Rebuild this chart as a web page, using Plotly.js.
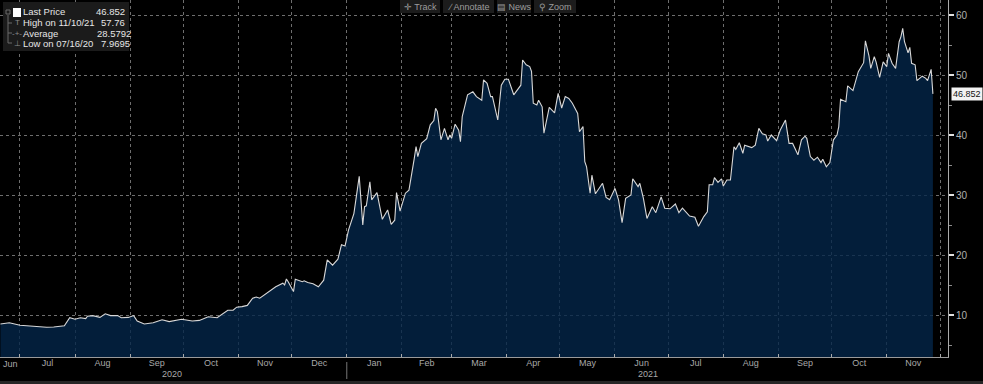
<!DOCTYPE html>
<html>
<head>
<meta charset="utf-8">
<script src="https://cdn.plot.ly/plotly-3.0.1.min.js"></script>
<style>
  html, body { margin: 0; padding: 0; background: #000; }
  #chart { width: 983px; height: 384px; }
</style>
</head>
<body>
<div id="chart"></div>
<script>
// ---- data ----
const dates = [
 '2020-06-20','2020-06-25','2020-07-01','2020-07-08','2020-07-16','2020-07-20','2020-07-26','2020-07-29',
 '2020-08-01','2020-08-04','2020-08-07','2020-08-08','2020-08-11','2020-08-15','2020-08-18','2020-08-21',
 '2020-08-25','2020-08-27','2020-08-31','2020-09-03','2020-09-05','2020-09-09','2020-09-14','2020-09-19',
 '2020-09-23','2020-09-30','2020-10-03','2020-10-06','2020-10-10','2020-10-15','2020-10-20','2020-10-23',
 '2020-10-26','2020-10-29','2020-10-31','2020-11-03','2020-11-06','2020-11-09','2020-11-11','2020-11-13',
 '2020-11-17','2020-11-22','2020-11-26','2020-11-27','2020-11-28','2020-11-29','2020-12-02','2020-12-03',
 '2020-12-07','2020-12-08','2020-12-10','2020-12-13','2020-12-16','2020-12-19','2020-12-21','2020-12-24',
 '2020-12-27','2020-12-29','2020-12-31','2021-01-01','2021-01-02','2021-01-05','2021-01-08','2021-01-10',
 '2021-01-11','2021-01-12','2021-01-14','2021-01-15','2021-01-18','2021-01-21','2021-01-24','2021-01-26',
 '2021-01-28','2021-01-29','2021-01-31','2021-02-03','2021-02-05','2021-02-08','2021-02-09','2021-02-10',
 '2021-02-12','2021-02-15','2021-02-17','2021-02-19','2021-02-20','2021-02-21','2021-02-23','2021-02-25',
 '2021-02-27','2021-02-28','2021-03-01','2021-03-03','2021-03-05','2021-03-06','2021-03-07','2021-03-10',
 '2021-03-13','2021-03-15','2021-03-18','2021-03-19','2021-03-21','2021-03-23','2021-03-24','2021-03-27',
 '2021-03-29','2021-03-31','2021-04-02','2021-04-05','2021-04-07','2021-04-09','2021-04-10','2021-04-12',
 '2021-04-14','2021-04-15','2021-04-16','2021-04-18','2021-04-19','2021-04-21','2021-04-22','2021-04-24',
 '2021-04-25','2021-04-28','2021-04-30','2021-05-02','2021-05-04','2021-05-06','2021-05-08','2021-05-11',
 '2021-05-12','2021-05-14','2021-05-15','2021-05-16','2021-05-18','2021-05-19','2021-05-21','2021-05-25',
 '2021-05-27','2021-05-29','2021-06-01','2021-06-03','2021-06-05','2021-06-07','2021-06-10','2021-06-11',
 '2021-06-14','2021-06-15','2021-06-17','2021-06-19','2021-06-22','2021-06-24','2021-06-27','2021-06-29',
 '2021-07-02','2021-07-05','2021-07-07','2021-07-09','2021-07-13','2021-07-16','2021-07-18','2021-07-21',
 '2021-07-23','2021-07-24','2021-07-26','2021-07-27','2021-07-29','2021-07-31','2021-08-01','2021-08-03',
 '2021-08-05','2021-08-07','2021-08-08','2021-08-10','2021-08-12','2021-08-13','2021-08-17','2021-08-19',
 '2021-08-21','2021-08-23','2021-08-25','2021-08-26','2021-08-28','2021-08-31','2021-09-02','2021-09-05',
 '2021-09-07','2021-09-09','2021-09-12','2021-09-14','2021-09-16','2021-09-17','2021-09-19','2021-09-21',
 '2021-09-23','2021-09-25','2021-09-26','2021-09-28','2021-09-30','2021-10-02','2021-10-04','2021-10-05',
 '2021-10-06','2021-10-09','2021-10-10','2021-10-13','2021-10-16','2021-10-19','2021-10-20','2021-10-22',
 '2021-10-23','2021-10-25','2021-10-26','2021-10-28','2021-10-30','2021-11-01','2021-11-02','2021-11-04',
 '2021-11-06','2021-11-08','2021-11-09','2021-11-10','2021-11-11','2021-11-13','2021-11-14','2021-11-15',
 '2021-11-17','2021-11-18','2021-11-21','2021-11-23','2021-11-24','2021-11-26','2021-11-27'
];
const prices = [
 8.5,8.7,8.3,8.1,7.9695,8.0,8.2,9.55,
 9.3,9.55,9.4,9.8,9.9,9.6,10.2,9.9,
 9.9,9.55,9.6,9.9,9.0,8.5,8.7,9.2,
 8.9,9.3,9.2,9.0,9.1,9.7,9.55,10.2,
 10.8,10.8,11.3,11.4,11.6,12.8,13.0,12.8,
 13.6,14.7,15.3,15.0,16.0,15.55,13.9,15.95,
 15.55,15.7,15.4,15.2,14.7,15.8,19.2,18.3,
 19.3,21.7,21.5,22.8,24.2,26.9,33.1,25.0,
 28.05,28.2,32.2,29.2,30.4,25.95,27.5,25.1,
 25.8,30.4,27.3,30.3,30.8,36.1,38.05,36.4,
 38.6,39.4,41.7,42.4,44.45,43.9,39.2,41.1,
 39.2,40.0,39.45,41.8,40.8,38.9,43.05,46.7,
 47.2,46.4,45.8,49.2,48.6,46.4,46.4,42.5,
 48.3,49.3,49.3,46.7,47.5,48.3,52.5,51.7,
 51.4,50.6,45.3,45.0,45.8,44.7,40.3,43.3,
 44.6,43.7,46.95,44.5,46.4,46.1,45.3,43.6,
 40.55,41.4,35.55,34.7,30.3,33.3,30.2,31.95,
 29.6,29.2,31.1,29.2,25.4,29.45,30.0,32.7,
 31.4,31.95,29.45,26.1,28.05,27.05,29.7,27.8,
 27.7,28.5,27.05,27.8,26.5,26.3,24.8,26.4,
 27.2,31.7,31.7,32.9,32.1,32.7,31.5,32.5,
 32.5,38.05,37.6,38.7,36.95,38.3,37.9,38.3,
 41.1,40.2,40.0,39.0,40.0,39.05,40.8,42.5,
 38.6,38.6,36.7,39.2,39.8,39.45,36.4,35.8,
 36.3,35.4,35.95,34.7,35.4,39.2,40.0,41.4,
 45.95,45.55,48.2,47.4,50.55,52.05,55.7,53.2,
 51.1,53.05,52.2,49.6,52.2,51.4,53.6,51.95,
 51.1,55.55,56.4,57.76,55.55,53.7,54.6,51.95,
 51.7,49.05,49.8,49.45,49.05,50.95,46.852
];
const legendLabels = ['Last Price', 'High on 11/10/21', 'Average', 'Low on 07/16/20'];
const legendValues = ['46.852', '57.76', '28.5792', '7.9695'];
const yearLabels = ['2020', '2021'];
const toolbarItems = ['\u271B Track', '\u2215 Annotate', '\u25A4 News', '\u26B2 Zoom'];
const lastPrice = prices[prices.length - 1];

// ---- layout helpers (pixel -> paper) ----
const W = 948, H = 357;
const P = px => px / W;
const Q = py => 1 - py / H;

const gridCol = '#6e6e6e';
const font = 'Liberation Sans, Arial, sans-serif';

const annotations = [];
const shapes = [];

// legend box
shapes.push({type:'rect', xref:'paper', yref:'paper', x0:P(3), x1:P(129), y0:Q(51), y1:Q(2),
  fillcolor:'#1b1b1b', line:{width:0}, layer:'above'});
// white square
shapes.push({type:'rect', xref:'paper', yref:'paper', x0:P(13), x1:P(21), y0:Q(17), y1:Q(8),
  fillcolor:'#ffffff', line:{width:0}, layer:'above'});
// tree line
shapes.push({type:'path', xref:'paper', yref:'paper',
  path:`M ${P(8)} ${Q(15)} L ${P(8)} ${Q(43)} L ${P(12)} ${Q(43)} M ${P(8)} ${Q(23)} L ${P(12)} ${Q(23)} M ${P(8)} ${Q(33)} L ${P(12)} ${Q(33)}`,
  line:{color:'#6a6a6a', width:1}, layer:'above'});
shapes.push({type:'rect', xref:'paper', yref:'paper', x0:P(6), x1:P(10), y0:Q(14), y1:Q(10),
  fillcolor:'rgba(0,0,0,0)', line:{color:'#6a6a6a', width:1}, layer:'above'});
const rowY = [12, 22.5, 33, 43.5];
const icons = ['', 'T', '-+-', '\u22A5'];
const valX = [94, 99, 95, 99];
legendLabels.forEach((t, i) => {
  annotations.push({xref:'paper', yref:'paper', x:P(21), y:Q(rowY[i]), xanchor:'left', yanchor:'middle',
    text:t, showarrow:false, font:{family:font, size:9.5, color:'#e6e6e6'}});
  annotations.push({xref:'paper', yref:'paper', x:P(valX[i]), y:Q(rowY[i]), xanchor:'left', yanchor:'middle',
    text:legendValues[i], showarrow:false, font:{family:font, size:9.5, color:'#e6e6e6'}});
  if (icons[i]) annotations.push({xref:'paper', yref:'paper', x:P(17), y:Q(rowY[i]), xanchor:'center', yanchor:'middle',
    text:icons[i], showarrow:false, font:{family:font, size:8, color:'#8a8a8a'}});
});

// toolbar
const tbX = [[400, 440], [443, 494], [497, 531], [534, 576]];
toolbarItems.forEach((t, i) => {
  shapes.push({type:'rect', xref:'paper', yref:'paper', x0:P(tbX[i][0]), x1:P(tbX[i][1]), y0:Q(13), y1:Q(0),
    fillcolor:'#1c1c1c', line:{width:0}, layer:'above'});
  annotations.push({xref:'paper', yref:'paper', x:P((tbX[i][0]+tbX[i][1])/2), y:Q(6.5), xanchor:'center', yanchor:'middle',
    text:t, showarrow:false, font:{family:font, size:9, color:'#9c9c9c'}});
});

// Jun label (partial first month) and year labels
annotations.push({xref:'paper', yref:'paper', x:P(10), y:Q(364), xanchor:'center', yanchor:'middle',
  text:'Jun', showarrow:false, font:{family:font, size:9, color:'#a8a8a8'}});
annotations.push({xref:'paper', yref:'paper', x:P(172), y:Q(374), xanchor:'center', yanchor:'middle',
  text:yearLabels[0], showarrow:false, font:{family:font, size:9, color:'#a8a8a8'}});
annotations.push({xref:'paper', yref:'paper', x:P(648), y:Q(374), xanchor:'center', yanchor:'middle',
  text:yearLabels[1], showarrow:false, font:{family:font, size:9, color:'#a8a8a8'}});
// year separator
shapes.push({type:'line', xref:'x', yref:'paper', x0:'2021-01-01', x1:'2021-01-01', y0:Q(362), y1:Q(379),
  line:{color:'#777', width:1}});
// bottom strip
shapes.push({type:'rect', xref:'paper', yref:'paper', x0:0, x1:P(983), y0:Q(384), y1:Q(381),
  fillcolor:'#262626', line:{width:0}});

// last price tag
annotations.push({xref:'paper', yref:'y', x:1, xshift:3, y:lastPrice, xanchor:'left', yanchor:'middle',
  text:lastPrice.toFixed(3), showarrow:false, bgcolor:'#f2f2f2', borderpad:1,
  font:{family:font, size:9, color:'#111'}});

const trace = {
  type:'scatter', mode:'lines', x:dates, y:prices,
  line:{color:'#d8d8d8', width:1.1},
  fill:'tozeroy', fillcolor:'rgba(4,37,72,0.8)',
  hoverinfo:'skip'
};

const layout = {
  width:983, height:384,
  margin:{l:0, r:35, t:0, b:27, pad:0},
  paper_bgcolor:'#000', plot_bgcolor:'#000',
  showlegend:false,
  font:{family:font, color:'#a8a8a8'},
  xaxis:{
    type:'date', range:['2020-06-19 18:00','2021-12-05 12:00'],
    tick0:'2020-07-01', dtick:'M1', ticklabelmode:'period', tickformat:'%b',
    showgrid:true, gridcolor:gridCol, griddash:'dot', gridwidth:1,
    ticks:'inside', ticklen:3, tickcolor:'#aaa',
    ticklabelstandoff:-3,
    showline:true, linecolor:'#9a9a9a', linewidth:1,
    tickfont:{family:font, size:9, color:'#a8a8a8'},
    zeroline:false, fixedrange:true
  },
  yaxis:{
    side:'right', range:[3, 62.5], tick0:0, dtick:10,
    showgrid:true, gridcolor:gridCol, griddash:'dot', gridwidth:1,
    ticks:'outside', ticklen:5, tickwidth:2, tickcolor:'#e0e0e0',
    minor:{dtick:5, ticks:'outside', ticklen:3, tickwidth:1, tickcolor:'#8a8a8a', showgrid:false},
    showline:true, linecolor:'#aaaaaa', linewidth:1,
    tickfont:{family:font, size:10, color:'#b0b0b0'},
    zeroline:false, fixedrange:true
  },
  shapes:shapes,
  annotations:annotations
};

Plotly.newPlot('chart', [trace], layout, {staticPlot:true, displayModeBar:false});
</script>
</body>
</html>
